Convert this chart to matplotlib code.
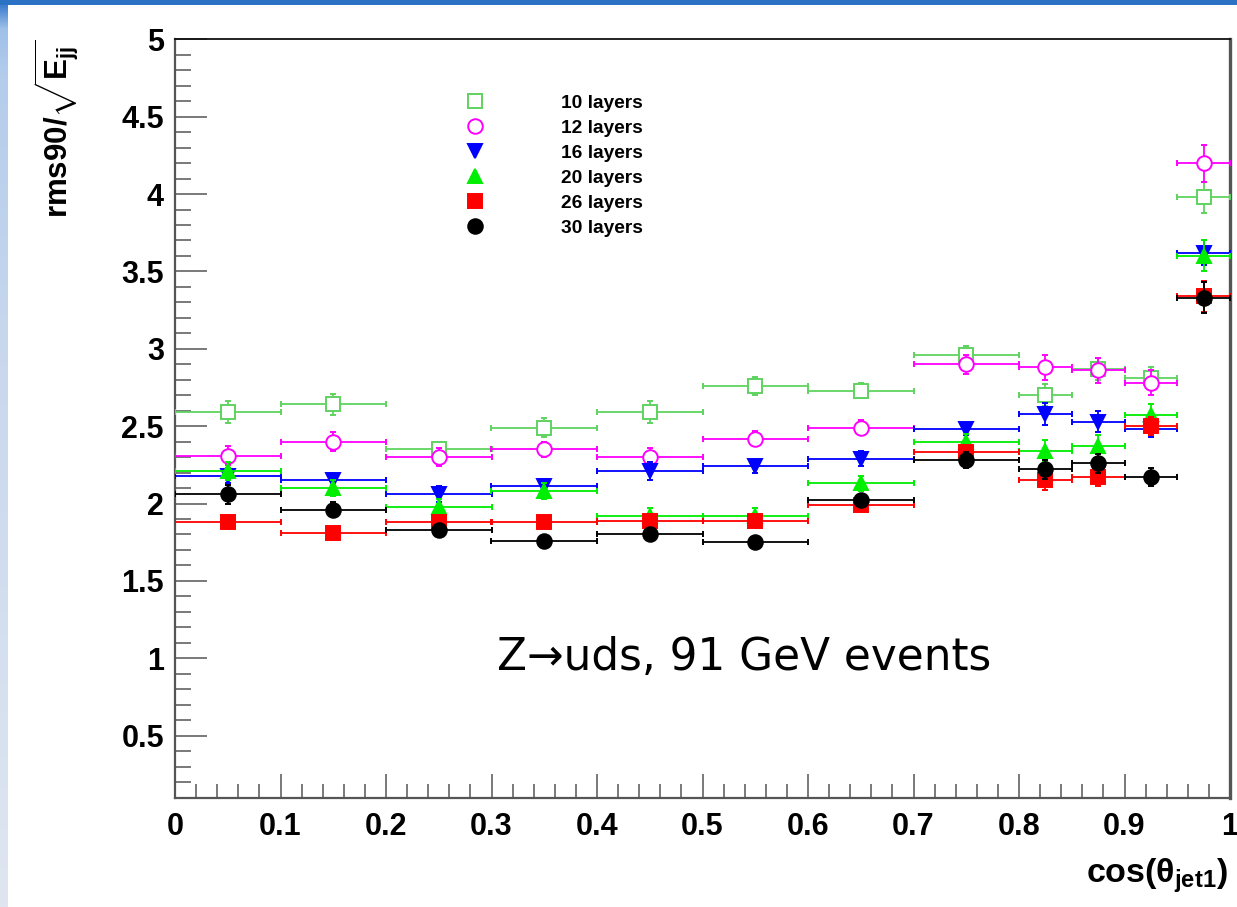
import numpy as np
import matplotlib
matplotlib.use("Agg")
import matplotlib.pyplot as plt
from matplotlib.lines import Line2D
from matplotlib.patches import Rectangle
from matplotlib.colors import to_rgb

# ---- data -------------------------------------------------------------
bin_edges = [0.0, 0.1, 0.2, 0.3, 0.4, 0.5, 0.6, 0.7, 0.8, 0.85, 0.9, 0.95, 1.0]

res_10 = [2.59, 2.64, 2.35, 2.49, 2.59, 2.76, 2.73, 2.96, 2.70, 2.87, 2.81, 3.98]
err_10 = [0.07, 0.07, 0.05, 0.06, 0.07, 0.06, 0.05, 0.06, 0.07, 0.07, 0.07, 0.10]

res_12 = [2.31, 2.40, 2.30, 2.35, 2.30, 2.42, 2.49, 2.90, 2.88, 2.86, 2.78, 4.20]
err_12 = [0.06, 0.06, 0.06, 0.05, 0.06, 0.05, 0.05, 0.06, 0.08, 0.08, 0.08, 0.12]

res_16 = [2.18, 2.15, 2.06, 2.11, 2.21, 2.24, 2.29, 2.48, 2.58, 2.53, 2.48, 3.62]
err_16 = [0.05, 0.05, 0.05, 0.04, 0.06, 0.04, 0.05, 0.04, 0.07, 0.07, 0.05, 0.08]

res_20 = [2.21, 2.10, 1.98, 2.08, 1.92, 1.92, 2.13, 2.40, 2.34, 2.37, 2.57, 3.60]
err_20 = [0.06, 0.05, 0.05, 0.05, 0.05, 0.05, 0.05, 0.05, 0.07, 0.07, 0.07, 0.10]

res_26 = [1.88, 1.81, 1.88, 1.88, 1.89, 1.89, 1.99, 2.33, 2.15, 2.17, 2.50, 3.34]
err_26 = [0.04, 0.04, 0.04, 0.04, 0.04, 0.04, 0.04, 0.05, 0.06, 0.06, 0.06, 0.10]

res_30 = [2.06, 1.96, 1.83, 1.76, 1.80, 1.75, 2.02, 2.28, 2.22, 2.26, 2.17, 3.33]
err_30 = [0.06, 0.05, 0.04, 0.03, 0.03, 0.03, 0.04, 0.05, 0.06, 0.06, 0.06, 0.10]

labels = ["10 layers", "12 layers", "16 layers", "20 layers", "26 layers", "30 layers"]

x_ticks = [0, 0.1, 0.2, 0.3, 0.4, 0.5, 0.6, 0.7, 0.8, 0.9, 1]
x_ticklabels = ["0", "0.1", "0.2", "0.3", "0.4", "0.5", "0.6", "0.7", "0.8", "0.9", "1"]
y_ticks = [0.5, 1, 1.5, 2, 2.5, 3, 3.5, 4, 4.5, 5]
y_ticklabels = ["0.5", "1", "1.5", "2", "2.5", "3", "3.5", "4", "4.5", "5"]

# ---- style ------------------------------------------------------------
plt.rcParams["font.family"] = ["Liberation Sans", "DejaVu Sans"]
plt.rcParams["font.weight"] = "bold"
plt.rcParams["mathtext.fontset"] = "custom"
plt.rcParams["mathtext.rm"] = "Liberation Sans:bold"
plt.rcParams["mathtext.it"] = "Liberation Sans:bold"
plt.rcParams["mathtext.bf"] = "Liberation Sans:bold"

W, H = 1237, 907
fig = plt.figure(figsize=(W / 100, H / 100), dpi=100)
fig.patch.set_facecolor("white")

# slide decoration: blue header bar and pale gradient strip on the left
fig.add_artist(Rectangle((0, 1 - 5 / H), 1, 5 / H, transform=fig.transFigure,
                         facecolor="#2b72c4", edgecolor="none", zorder=0))
strip = fig.add_axes([0, 0, 8 / W, 1 - 5 / H])
strip.set_axis_off()
stops = [0.0, 0.025, 0.08, 0.4, 1.0]
cols = [to_rgb("#3f7fd0"), to_rgb("#9fc0e8"), to_rgb("#b4cdec"),
        to_rgb("#c9d8ee"), to_rgb("#dfe6f0")]
t = np.linspace(0, 1, 400)
grad = np.stack([np.interp(t, stops, [c[i] for c in cols]) for i in range(3)], axis=-1)
strip.imshow(grad[:, None, :], aspect="auto", extent=[0, 1, 0, 1])

# ---- axes -------------------------------------------------------------
left, right = 175 / W, 1230 / W
bottom, top = 1 - 798.3 / H, 1 - 39.3 / H
ax = fig.add_axes([left, bottom, right - left, top - bottom])

edges = np.array(bin_edges)
centers = 0.5 * (edges[:-1] + edges[1:])
half = 0.5 * (edges[1:] - edges[:-1])

series = [
    (res_10, err_10, "s", "#5fd35f", "white"),
    (res_12, err_12, "o", "#ff00ff", "white"),
    (res_16, err_16, "v", "#0000ff", "#0000ff"),
    (res_20, err_20, "^", "#00ee00", "#00ee00"),
    (res_26, err_26, "s", "#ff0000", "#ff0000"),
    (res_30, err_30, "o", "#000000", "#000000"),
]

handles = []
for i, (vals, errs, mk, col, face) in enumerate(series):
    ax.errorbar(centers, vals, xerr=half, yerr=errs, fmt=mk, color=col,
                mfc=face, mec=col, mew=1.4, ms=10.5, elinewidth=1.3,
                capsize=2.3, capthick=1.3, zorder=3 + i)
    handles.append(Line2D([], [], linestyle="none", marker=mk, color=col,
                          mfc=face, mec=col, mew=1.4, ms=10.5))

ax.set_xlim(0, 1)
ax.set_ylim(0.095, 5)

ax.set_xticks(x_ticks)
ax.set_xticklabels(x_ticklabels)
ax.set_xticks(np.arange(0, 1.0001, 0.02), minor=True)
ax.set_yticks(y_ticks)
ax.set_yticklabels(y_ticklabels)
ax.set_yticks(np.arange(0.2, 5.0001, 0.1), minor=True)

ax.tick_params(axis="both", which="both", direction="in", color="#555555",
               width=1.1, labelsize=22)
ax.tick_params(axis="y", which="major", length=23, pad=8)
ax.tick_params(axis="y", which="minor", length=11.5)
ax.tick_params(axis="x", which="major", length=17, pad=10)
ax.tick_params(axis="x", which="minor", length=10)
ax.tick_params(top=False, right=False)

for lab in ax.get_xticklabels() + ax.get_yticklabels():
    lab.set_fontweight("bold")

for side in ("left", "bottom"):
    ax.spines[side].set_color("#555555")
    ax.spines[side].set_linewidth(1.6)
ax.spines["top"].set_color("#111111")
ax.spines["top"].set_linewidth(1.3)
ax.spines["right"].set_color("#555555")
ax.spines["right"].set_linewidth(2.4)

# axis titles
fig.text(1228 / W, 1 - 876 / H, r"cos($\theta_{\mathrm{jet1}}$)", ha="right",
         va="center", fontsize=24.5, fontweight="bold")
fig.text(57 / W, 1 - 40 / H, r"rms90/$\sqrt{\mathrm{E_{jj}}}$", rotation=90,
         ha="center", va="top", fontsize=22.5, fontweight="bold")

# legend
leg = ax.legend(handles, labels, loc="upper left",
                bbox_to_anchor=(0.275, 0.927), frameon=False, fontsize=13.8,
                handlelength=1.0, handletextpad=4.0, labelspacing=0.39,
                borderpad=0, borderaxespad=0)
for txt in leg.get_texts():
    txt.set_fontweight("bold")

# process annotation
ax.text(0.305, 0.186, "Z\u2192uds, 91 GeV events", transform=ax.transAxes,
        fontsize=31.5, fontweight="normal", family=["DejaVu Sans"],
        ha="left", va="center")

fig.savefig("out.png", dpi=100)
